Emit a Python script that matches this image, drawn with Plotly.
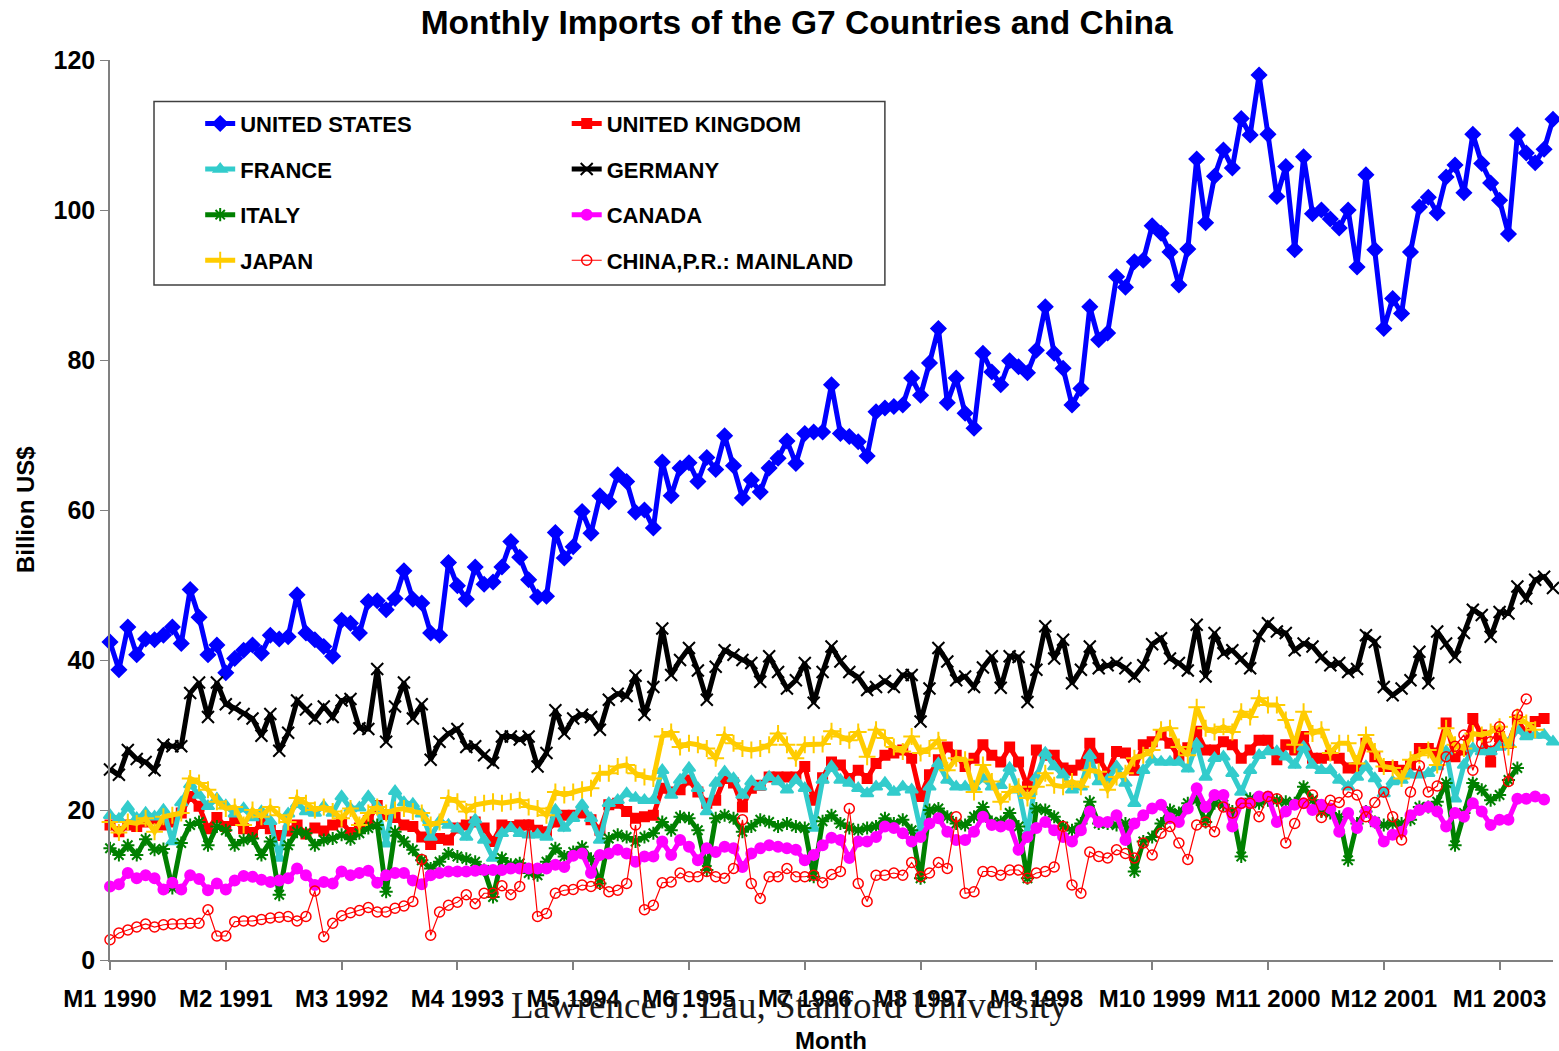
import plotly.graph_objects as go

# month categories, M1 1990 .. M7 2003
months = [f"M{m} {y}" for y in range(1990, 2004) for m in range(1, 13)][:163]
tick_labels = ["M1 1990", "M2 1991", "M3 1992", "M4 1993", "M5 1994", "M6 1995", "M7 1996",
               "M8 1997", "M9 1998", "M10 1999", "M11 2000", "M12 2001", "M1 2003"]

united_states = [
    42.4, 38.7, 44.4, 40.7, 42.8, 42.7, 43.3, 44.4, 42.2, 49.4, 45.7, 40.7, 42.0, 38.3, 40.2, 41.3,
    42.0, 40.9, 43.3, 42.8, 43.1, 48.7, 43.6, 42.7, 41.8, 40.5, 45.3, 44.9, 43.6, 47.8, 47.9, 46.7,
    48.2, 51.9, 48.1, 47.6, 43.6, 43.3, 53.0, 49.9, 48.1, 52.4, 50.1, 50.4, 52.4, 55.8, 53.7, 50.7,
    48.4, 48.5, 57.0, 53.6, 55.1, 59.8, 56.9, 61.9, 61.1, 64.7, 63.8, 59.7, 60.0, 57.6, 66.4, 61.9,
    65.6, 66.3, 63.8, 67.0, 65.4, 69.9, 65.9, 61.6, 64.0, 62.4, 65.6, 66.9, 69.2, 66.2, 70.2, 70.4,
    70.4, 76.7, 70.2, 69.8, 69.1, 67.2, 73.1, 73.6, 73.8, 74.0, 77.6, 75.3, 79.6, 84.2, 74.3, 77.6,
    72.9, 70.9, 80.9, 78.4, 76.7, 79.9, 79.1, 78.3, 81.3, 87.1, 80.9, 78.9, 74.0, 76.2, 87.1, 82.7,
    83.6, 91.1, 89.7, 93.1, 93.3, 97.9, 96.9, 94.4, 90.0, 94.8, 106.8, 98.3, 104.5, 108.0, 105.6, 112.2,
    110.0, 118.0, 110.1, 101.8, 105.8, 94.7, 107.1, 99.5, 100.0, 98.8, 97.6, 100.0, 92.4, 104.7, 94.7, 84.2,
    88.2, 86.2, 94.4, 100.4, 101.7, 99.6, 104.4, 106.0, 102.3, 110.1, 106.2, 103.6, 101.3, 96.8, 110.0, 107.6,
    106.3, 108.1, 112.1,
]

united_kingdom = [
    18.0, 17.1, 18.0, 17.8, 18.4, 18.8, 18.0, 18.4, 19.6, 21.8, 20.5, 17.5, 19.0, 17.8, 18.6, 17.5,
    17.0, 18.2, 17.5, 16.6, 17.2, 18.0, 16.8, 17.6, 17.2, 18.0, 18.4, 17.0, 17.6, 18.6, 20.6, 19.4,
    19.0, 18.0, 17.8, 16.4, 15.4, 16.2, 16.0, 17.6, 18.0, 18.4, 17.6, 15.8, 18.0, 17.8, 18.0, 18.0,
    17.3, 17.1, 18.4, 19.3, 19.3, 19.6, 18.7, 17.3, 20.7, 20.9, 19.8, 18.9, 19.1, 19.3, 22.9, 22.4,
    22.7, 24.0, 22.4, 20.9, 21.3, 24.2, 23.6, 20.4, 22.9, 23.3, 24.4, 24.4, 24.4, 24.4, 25.8, 21.3,
    24.3, 26.4, 26.0, 24.2, 25.3, 24.2, 26.2, 27.3, 27.6, 28.0, 26.9, 21.8, 24.7, 26.7, 28.4, 27.3,
    25.8, 26.9, 28.7, 27.3, 26.4, 28.4, 26.4, 23.1, 28.0, 27.3, 27.3, 25.6, 25.3, 26.0, 28.9, 26.9,
    24.9, 27.8, 27.6, 25.3, 28.7, 29.1, 30.0, 28.9, 27.1, 28.3, 30.5, 28.0, 28.0, 29.1, 28.7, 26.9,
    28.0, 29.3, 29.3, 26.7, 28.7, 28.0, 29.8, 26.9, 26.9, 27.3, 26.9, 25.6, 25.6, 28.9, 27.1, 25.8,
    25.8, 25.3, 26.0, 28.2, 28.2, 27.6, 31.6, 27.1, 28.0, 32.2, 30.0, 26.4, 29.8, 28.9, 32.0, 30.2,
    31.8, 32.2,
]

france = [
    19.3, 18.8, 20.4, 18.9, 19.6, 19.1, 20.0, 15.8, 21.0, 23.4, 22.0, 20.5, 21.5, 20.6, 19.5, 20.2,
    19.0, 19.8, 18.5, 13.6, 19.5, 20.8, 19.8, 19.6, 20.5, 19.6, 21.8, 20.2, 20.3, 21.8, 20.5, 15.5,
    22.5, 21.0, 20.8, 19.5, 16.4, 18.5, 18.0, 17.5, 16.4, 18.7, 16.0, 13.6, 16.9, 17.6, 16.9, 16.7,
    16.7, 16.4, 20.0, 17.6, 18.9, 20.7, 18.9, 16.0, 20.9, 21.3, 22.2, 21.6, 21.3, 21.3, 25.3, 22.0,
    24.0, 25.6, 22.9, 19.8, 23.6, 25.1, 24.2, 22.0, 23.8, 23.1, 24.4, 23.8, 22.7, 24.0, 22.9, 17.6,
    24.0, 25.8, 24.0, 23.6, 22.9, 22.2, 23.1, 23.6, 22.4, 23.1, 22.7, 17.3, 23.1, 26.2, 24.0, 23.1,
    23.1, 23.1, 24.2, 23.1, 23.3, 25.6, 22.7, 16.9, 24.4, 27.6, 25.8, 24.7, 22.7, 23.1, 27.3, 23.8,
    24.0, 25.8, 23.6, 20.9, 25.3, 26.7, 26.4, 26.4, 26.4, 25.5, 28.8, 24.4, 26.9, 27.1, 24.9, 22.4,
    25.3, 27.3, 27.8, 27.8, 27.1, 26.0, 28.4, 26.0, 25.3, 25.3, 24.0, 23.1, 24.4, 25.8, 24.2, 22.2,
    23.8, 24.0, 24.7, 24.7, 24.9, 25.8, 27.8, 21.5, 26.0, 28.2, 27.8, 27.8, 28.4, 28.9, 30.7, 29.8,
    30.0, 30.0, 29.1,
]

germany = [
    25.4, 24.7, 28.0, 26.8, 26.4, 25.3, 28.7, 28.5, 28.5, 35.6, 37.0, 32.4, 37.0, 34.1, 33.6, 32.8,
    32.2, 29.9, 32.8, 27.9, 30.3, 34.6, 33.4, 32.2, 33.8, 32.4, 34.6, 34.8, 30.9, 30.8, 38.8, 29.1,
    33.8, 37.0, 32.2, 34.1, 26.7, 29.1, 30.2, 30.8, 28.4, 28.5, 27.3, 26.3, 29.8, 29.8, 29.4, 29.8,
    25.8, 27.6, 33.3, 30.2, 32.2, 32.7, 32.4, 30.7, 34.7, 35.5, 35.2, 37.9, 32.7, 36.4, 44.2, 38.0,
    40.0, 41.6, 38.6, 34.7, 39.1, 41.3, 40.7, 40.0, 39.6, 37.1, 40.5, 38.4, 36.2, 37.3, 39.6, 34.3,
    38.4, 41.8, 39.8, 38.4, 37.7, 36.0, 36.4, 37.2, 36.4, 38.0, 38.0, 31.8, 36.2, 41.6, 39.8, 37.3,
    37.8, 36.4, 39.0, 40.5, 36.3, 40.5, 40.4, 34.4, 38.7, 44.5, 40.2, 42.7, 36.9, 38.7, 41.8, 38.9,
    39.3, 39.6, 38.9, 37.8, 39.3, 42.1, 42.9, 40.2, 39.6, 38.6, 44.7, 37.8, 43.6, 40.9, 41.3, 40.2,
    38.9, 43.2, 44.9, 43.8, 43.6, 41.3, 42.2, 41.8, 40.4, 39.3, 39.6, 38.4, 38.8, 43.3, 42.4, 36.4,
    35.3, 36.2, 37.3, 41.1, 36.9, 43.8, 42.2, 40.4, 43.6, 46.7, 46.0, 43.1, 46.4, 46.2, 49.8, 48.2,
    50.7, 51.1, 49.6,
]

italy = [
    14.9, 14.0, 15.3, 14.0, 16.1, 14.7, 14.8, 9.6, 15.6, 18.0, 18.4, 15.3, 17.8, 17.3, 15.3, 16.0,
    16.2, 14.0, 15.8, 8.7, 15.3, 17.1, 16.9, 15.3, 16.0, 16.2, 16.7, 16.1, 16.9, 17.6, 18.0, 9.1,
    17.1, 15.8, 14.7, 13.3, 12.2, 13.1, 14.2, 13.8, 13.5, 13.1, 12.0, 8.4, 13.6, 12.7, 12.9, 11.6,
    11.3, 13.1, 14.9, 13.8, 14.4, 15.1, 13.5, 10.2, 16.2, 16.7, 16.4, 15.8, 16.4, 16.9, 18.4, 17.3,
    19.1, 18.9, 17.3, 12.0, 18.9, 19.3, 18.9, 17.1, 17.8, 18.7, 18.4, 17.8, 18.2, 17.8, 17.6, 11.1,
    18.5, 19.3, 18.2, 17.6, 17.3, 17.6, 17.8, 18.9, 18.2, 18.7, 17.3, 10.9, 20.0, 20.2, 19.1, 18.2,
    18.0, 19.1, 20.4, 18.4, 18.4, 19.6, 17.8, 10.9, 20.2, 20.0, 19.1, 17.8, 17.3, 18.2, 21.1, 18.2,
    18.2, 18.0, 18.2, 11.8, 15.8, 16.4, 18.2, 20.0, 19.6, 20.9, 21.4, 18.4, 20.9, 20.7, 19.8, 13.8,
    21.5, 20.9, 21.3, 21.3, 21.1, 20.9, 23.1, 21.3, 19.8, 19.6, 19.1, 13.3, 18.2, 19.8, 18.4, 18.0,
    18.2, 18.2, 18.7, 20.4, 20.4, 21.1, 23.6, 15.3, 19.6, 23.6, 22.7, 21.3, 22.0, 24.0, 25.6,
]

canada = [
    9.8, 10.1, 11.6, 10.9, 11.3, 10.9, 9.4, 10.3, 9.4, 11.3, 10.8, 9.3, 10.2, 9.4, 10.6, 11.2,
    11.1, 10.7, 10.4, 10.6, 10.9, 12.2, 11.3, 10.0, 10.4, 10.2, 11.8, 11.3, 11.6, 11.9, 10.3, 11.3,
    11.6, 11.6, 10.6, 10.1, 11.3, 11.6, 11.8, 11.8, 11.8, 11.9, 12.0, 12.0, 12.0, 12.2, 12.2, 12.2,
    12.2, 12.2, 12.7, 12.4, 13.9, 14.2, 11.6, 14.0, 14.2, 14.7, 14.2, 13.1, 13.8, 13.8, 15.8, 14.0,
    16.0, 15.1, 13.3, 14.9, 14.4, 15.1, 14.9, 12.4, 14.2, 14.9, 15.3, 15.1, 14.9, 14.7, 13.3, 14.0,
    15.3, 16.3, 16.0, 13.6, 15.8, 15.8, 16.4, 17.8, 17.6, 16.9, 15.8, 16.4, 18.2, 18.9, 17.1, 16.0,
    16.0, 17.1, 19.1, 18.0, 17.8, 18.0, 14.7, 16.4, 17.6, 18.4, 17.3, 16.4, 15.8, 17.3, 19.8, 18.4,
    18.4, 19.3, 16.0, 18.2, 19.3, 20.2, 20.7, 18.9, 18.4, 20.2, 22.9, 20.4, 22.0, 22.0, 17.8, 20.9,
    20.9, 21.8, 21.8, 18.4, 19.8, 20.7, 20.9, 20.0, 20.7, 20.2, 17.1, 19.6, 17.6, 19.8, 18.4, 15.8,
    16.7, 17.1, 19.3, 20.0, 20.4, 19.8, 17.8, 19.6, 19.1, 20.9, 19.8, 18.0, 18.7, 18.7, 21.5, 21.5,
    21.8, 21.4,
]

japan = [
    18.4, 17.0, 18.4, 18.2, 18.9, 17.1, 19.1, 19.3, 19.6, 24.2, 23.6, 22.7, 21.1, 20.2, 20.4, 18.0,
    20.0, 19.1, 20.4, 19.3, 18.4, 21.6, 20.9, 20.0, 20.4, 19.8, 18.9, 20.2, 18.0, 19.6, 20.4, 19.6,
    20.0, 20.2, 19.8, 19.6, 18.0, 18.4, 21.6, 21.1, 19.8, 20.7, 20.9, 21.1, 20.9, 21.1, 21.3, 20.4,
    20.2, 19.3, 22.4, 22.0, 22.4, 22.7, 22.9, 24.9, 24.9, 25.8, 26.0, 24.9, 24.4, 24.2, 29.8, 30.4,
    28.4, 28.9, 28.7, 28.2, 26.9, 30.0, 28.9, 28.2, 28.0, 28.2, 28.7, 30.2, 28.7, 26.9, 28.7, 28.7,
    28.8, 30.5, 29.8, 29.3, 30.4, 27.1, 30.7, 29.6, 28.4, 27.8, 29.8, 27.6, 28.2, 29.3, 25.3, 26.9,
    26.7, 22.4, 26.0, 23.8, 21.1, 22.4, 23.1, 21.6, 23.1, 24.9, 23.3, 23.1, 23.8, 23.1, 25.3, 25.1,
    22.7, 24.4, 24.9, 26.9, 27.3, 28.0, 30.7, 30.9, 28.4, 27.3, 33.7, 30.9, 30.4, 31.1, 30.4, 33.1,
    32.4, 34.9, 34.0, 34.0, 32.0, 28.7, 33.1, 30.2, 30.7, 27.6, 28.9, 28.9, 26.2, 30.0, 27.8, 25.8,
    25.6, 24.2, 26.7, 27.3, 28.0, 26.0, 30.9, 28.7, 28.2, 30.2, 30.0, 30.4, 31.1, 28.4, 32.4, 31.6,
    30.7,
]

china = [
    2.7, 3.6, 4.0, 4.4, 4.8, 4.4, 4.7, 4.8, 4.8, 4.9, 4.9, 6.7, 3.2, 3.2, 5.1, 5.2,
    5.2, 5.4, 5.6, 5.7, 5.8, 5.2, 5.8, 9.2, 3.1, 4.9, 5.9, 6.3, 6.6, 7.0, 6.4, 6.4,
    6.9, 7.2, 7.8, 13.4, 3.3, 6.4, 7.3, 7.7, 8.7, 7.5, 8.9, 8.9, 9.9, 8.7, 9.8, 18.0,
    5.8, 6.2, 8.9, 9.3, 9.4, 10.0, 9.8, 10.2, 9.1, 9.3, 10.2, 18.0, 6.7, 7.3, 10.3, 10.4,
    11.6, 11.1, 11.1, 11.8, 11.1, 10.9, 12.2, 18.7, 10.2, 8.2, 11.1, 11.1, 12.2, 11.1, 11.1, 11.3,
    10.3, 11.4, 11.8, 20.2, 10.2, 7.8, 11.3, 11.3, 11.6, 11.3, 13.0, 11.1, 11.6, 13.0, 12.2, 19.1,
    8.9, 9.1, 11.8, 11.8, 11.3, 12.0, 12.0, 10.9, 11.6, 11.8, 12.4, 17.8, 10.0, 8.9, 14.4, 13.8,
    13.6, 14.7, 14.2, 13.6, 15.6, 14.0, 16.9, 17.8, 15.6, 13.4, 18.0, 18.4, 17.1, 20.4, 19.6, 20.9,
    20.9, 19.1, 21.8, 21.5, 15.6, 18.2, 20.9, 22.0, 19.0, 21.3, 21.0, 22.4, 22.0, 19.1, 21.0, 22.4,
    19.1, 16.0, 22.4, 25.9, 22.4, 23.2, 27.1, 28.5, 30.0, 25.3, 28.9, 29.1, 31.1, 23.8, 32.7, 34.8,
]

font = "Liberation Sans, Arial, sans-serif"

series = [
    ("UNITED STATES", united_states, "#0000FF", 5, "diamond", 11, "legend"),
    ("UNITED KINGDOM", united_kingdom, "#FF0000", 5, "square", 9, "legend2"),
    ("FRANCE", france, "#33CCCC", 5, "triangle-up", 11, "legend"),
    ("GERMANY", germany, "#000000", 5, "x-thin-open", 12, "legend2"),
    ("ITALY", italy, "#008000", 5, "asterisk-open", 11, "legend"),
    ("CANADA", canada, "#FF00FF", 5, "circle", 10, "legend2"),
    ("JAPAN", japan, "#FFCC00", 5, "cross-thin-open", 12, "legend"),
]

fig = go.Figure()
for name, vals, color, lw, sym, size, leg in series:
    fig.add_trace(go.Scatter(
        x=months[:len(vals)], y=vals, name=name, mode="lines+markers",
        line=dict(color=color, width=lw),
        marker=dict(symbol=sym, size=size, color=color, line=dict(color=color, width=2)),
        legend=leg, legendgroup=name, cliponaxis=False,
    ))

fig.add_trace(go.Scatter(
    x=months[:len(china)], y=china, name="CHINA,P.R.: MAINLAND", mode="lines+markers",
    line=dict(color="#FF0000", width=1.2),
    marker=dict(symbol="circle-open", size=10, color="#FF0000", line=dict(color="#FF0000", width=1.5)),
    legend="legend2", legendgroup="china", cliponaxis=False,
))

legend_style = dict(
    font=dict(family=font, size=22, color="black", weight="bold"),
    bgcolor="rgba(0,0,0,0)", borderwidth=0, tracegroupgap=14,
    xanchor="left", yanchor="top", traceorder="grouped",
)

title_font = dict(family=font, size=24, color="black", weight="bold")

fig.update_layout(
    width=1559, height=1051,
    margin=dict(l=110, r=6, t=60, b=91, autoexpand=False),
    paper_bgcolor="white", plot_bgcolor="white",
    font=dict(family=font, color="black"),
    title=dict(text="Monthly Imports of the G7 Countries and China",
               x=0.511, xanchor="center", y=0.979, yanchor="middle",
               font=dict(family=font, size=33.5, color="black", weight="bold")),
    legend=dict(x=0.0625, y=0.9526, **legend_style),
    legend2=dict(x=0.3165, y=0.9526, **legend_style),
    shapes=[dict(type="rect", xref="paper", yref="paper", x0=0.0305, x1=0.537, y0=0.75, y1=0.954,
                 line=dict(color="#404040", width=1.5), fillcolor="rgba(0,0,0,0)", layer="below")],
    annotations=[
        dict(text="Lawrence J. Lau, Stanford University", xref="paper", yref="paper",
             x=0.471, y=-0.050, xanchor="center", yanchor="middle", showarrow=False,
             font=dict(family="Liberation Serif, Times New Roman, serif", size=37, color="#1a1a1a")),
        dict(text="Month", xref="paper", yref="paper", x=0.4997, y=-0.0889,
             xanchor="center", yanchor="middle", showarrow=False, font=title_font),
        dict(text="Billion US$", xref="paper", yref="paper", x=-0.0589, y=0.5, textangle=-90,
             xanchor="center", yanchor="middle", showarrow=False, font=title_font),
    ],
)

fig.update_xaxes(
    type="category", categoryorder="array", categoryarray=months,
    range=[0, 162], tickmode="array", tickvals=tick_labels, ticktext=tick_labels,
    showline=True, linecolor="#808080", linewidth=2, ticks="outside", ticklen=8,
    tickcolor="#808080", tickwidth=1.5, showgrid=False, zeroline=False, automargin=False,
    ticklabelstandoff=8,
    tickfont=dict(family=font, size=24, color="black", weight="bold"),
)
fig.update_yaxes(
    range=[0, 120], dtick=20, showline=True, linecolor="#808080", linewidth=1.5,
    ticks="outside", ticklen=8, tickcolor="#808080", showgrid=False, zeroline=False, automargin=False,
    tickfont=dict(family=font, size=25, color="black", weight="bold"),
)

# the page body has a default 8px margin; drop it so the figure sits at the window origin
fig.write_html("out.html", config={"displayModeBar": False},
               post_script="document.body.style.margin='0';")
